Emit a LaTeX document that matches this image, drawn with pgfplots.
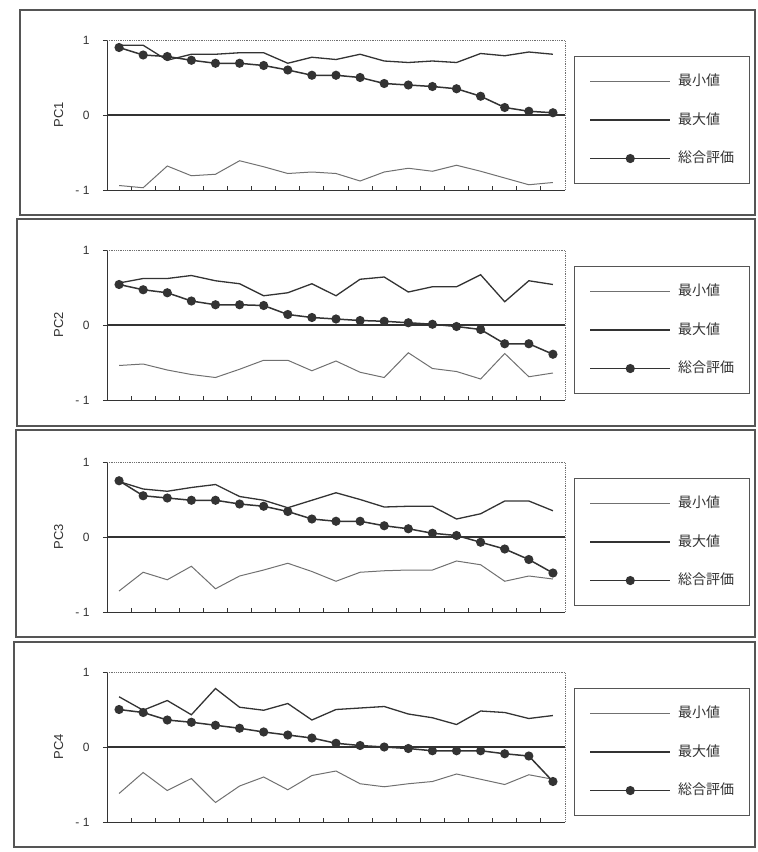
\documentclass[border=0pt]{standalone}
\usepackage{fontspec}
\setmainfont{Liberation Sans}
\newfontfamily\jp{Noto Sans CJK JP}
\usepackage{pgfplots}
\usepackage{pgfplotstable}
\pgfplotsset{compat=1.18}
\definecolor{ln}{HTML}{333333}
\definecolor{lnmin}{HTML}{707070}
\definecolor{frm}{HTML}{555555}

\pgfplotstableread{
x min max tot
0 -0.94 0.93 0.90
1 -0.97 0.93 0.80
2 -0.68 0.73 0.78
3 -0.81 0.81 0.73
4 -0.79 0.81 0.69
5 -0.61 0.83 0.69
6 -0.69 0.83 0.66
7 -0.78 0.69 0.60
8 -0.76 0.77 0.53
9 -0.78 0.74 0.53
10 -0.88 0.81 0.50
11 -0.76 0.72 0.42
12 -0.71 0.70 0.40
13 -0.75 0.72 0.38
14 -0.67 0.70 0.35
15 -0.75 0.82 0.25
16 -0.84 0.79 0.10
17 -0.93 0.84 0.05
18 -0.90 0.81 0.03
}\pcone

\pgfplotstableread{
x min max tot
0 -0.54 0.56 0.54
1 -0.52 0.62 0.47
2 -0.60 0.62 0.43
3 -0.66 0.66 0.32
4 -0.70 0.59 0.27
5 -0.59 0.55 0.27
6 -0.47 0.39 0.26
7 -0.47 0.43 0.14
8 -0.61 0.55 0.10
9 -0.48 0.39 0.08
10 -0.63 0.61 0.06
11 -0.70 0.64 0.05
12 -0.37 0.44 0.03
13 -0.58 0.51 0.01
14 -0.62 0.51 -0.02
15 -0.72 0.67 -0.06
16 -0.38 0.31 -0.25
17 -0.69 0.59 -0.25
18 -0.64 0.54 -0.39
}\pctwo

\pgfplotstableread{
x min max tot
0 -0.72 0.74 0.75
1 -0.47 0.64 0.55
2 -0.57 0.61 0.52
3 -0.39 0.66 0.49
4 -0.69 0.70 0.49
5 -0.52 0.54 0.44
6 -0.44 0.49 0.41
7 -0.35 0.39 0.34
8 -0.46 0.49 0.24
9 -0.59 0.59 0.21
10 -0.47 0.50 0.21
11 -0.45 0.40 0.15
12 -0.44 0.41 0.11
13 -0.44 0.41 0.05
14 -0.32 0.24 0.02
15 -0.37 0.31 -0.07
16 -0.59 0.48 -0.16
17 -0.52 0.48 -0.30
18 -0.56 0.35 -0.48
}\pcthree

\pgfplotstableread{
x min max tot
0 -0.62 0.67 0.50
1 -0.34 0.49 0.46
2 -0.58 0.62 0.36
3 -0.42 0.43 0.33
4 -0.74 0.78 0.29
5 -0.52 0.53 0.25
6 -0.40 0.49 0.20
7 -0.57 0.58 0.16
8 -0.38 0.36 0.12
9 -0.32 0.50 0.05
10 -0.49 0.52 0.02
11 -0.53 0.54 0.00
12 -0.49 0.44 -0.02
13 -0.46 0.39 -0.05
14 -0.36 0.30 -0.05
15 -0.43 0.48 -0.05
16 -0.50 0.46 -0.09
17 -0.37 0.38 -0.12
18 -0.43 0.42 -0.46
}\pcfour

\pgfplotsset{
 panel/.style={
  scale only axis, width=458pt, height=150pt, anchor=south west,
  xmin=-0.5, xmax=18.5, ymin=-1, ymax=1,
  axis x line*=bottom, axis y line*=left,
  axis line style={-, ln, line width=1pt},
  xtick={0.5,1.5,...,17.5}, xticklabels={}, xtick align=inside,
  ytick={-1,0,1}, yticklabels={- 1,0,1}, ytick align=outside,
  major tick length=4pt,
  tick style={ln, line width=0.9pt},
  yticklabel style={font=\fontsize{12}{14}\selectfont, text=ln, xshift=-10pt},
  ylabel style={font=\fontsize{13}{15}\selectfont, text=ln, at={(axis description cs:-0.088,0.5)}, anchor=south},
  clip=false,
  legend style={at={(1.0197,0.893)}, anchor=north west, draw=frm, line width=1pt,
    inner xsep=15pt, inner ysep=19pt, row sep=26.5pt, column sep=7pt,
    font=\jp\fontsize{14}{14}\selectfont, text=ln,
    nodes={inner sep=0pt, text height=10pt, text depth=2pt}},
  legend cell align=left,
  legend image code/.code={\draw[mark repeat=2,mark phase=2,##1] plot coordinates {(0pt,0pt) (40pt,0pt) (80pt,0pt)};},
  after end axis/.code={\draw[lnmin, densely dotted, line width=0.8pt] (rel axis cs:0,1) -- (rel axis cs:1,1) -- (rel axis cs:1,0);},
 },
 minline/.style={lnmin, line width=1pt},
 maxline/.style={ln, line width=1.3pt},
 totline/.style={ln, line width=1.5pt, mark=*, mark size=3.8pt, mark options={solid, fill=ln}},
 zeroline/.style={ln, line width=1.1pt, forget plot},
}

\begin{document}
\begin{tikzpicture}[x=1pt,y=1pt]
\path[use as bounding box] (0,0) rectangle (758,-852);
\draw[frm, line width=1.2pt] (20,-10) rectangle (755,-215);
\draw[frm, line width=1.2pt] (17,-219) rectangle (755,-426);
\draw[frm, line width=1.2pt] (16,-430) rectangle (755,-637);
\draw[frm, line width=1.2pt] (14,-642) rectangle (755,-847);

\begin{axis}[panel, at={(107pt,-190pt)}, ylabel={PC1}]
\addplot[zeroline] coordinates {(-0.5,0) (18.5,0)};
\addplot[minline] table[x=x,y=min] {\pcone};
\addlegendentry{最小値}
\addplot[maxline] table[x=x,y=max] {\pcone};
\addlegendentry{最大値}
\addplot[totline] table[x=x,y=tot] {\pcone};
\addlegendentry{総合評価}
\end{axis}

\begin{axis}[panel, at={(107pt,-400pt)}, ylabel={PC2}]
\addplot[zeroline] coordinates {(-0.5,0) (18.5,0)};
\addplot[minline] table[x=x,y=min] {\pctwo};
\addlegendentry{最小値}
\addplot[maxline] table[x=x,y=max] {\pctwo};
\addlegendentry{最大値}
\addplot[totline] table[x=x,y=tot] {\pctwo};
\addlegendentry{総合評価}
\end{axis}

\begin{axis}[panel, at={(107pt,-612pt)}, ylabel={PC3}]
\addplot[zeroline] coordinates {(-0.5,0) (18.5,0)};
\addplot[minline] table[x=x,y=min] {\pcthree};
\addlegendentry{最小値}
\addplot[maxline] table[x=x,y=max] {\pcthree};
\addlegendentry{最大値}
\addplot[totline] table[x=x,y=tot] {\pcthree};
\addlegendentry{総合評価}
\end{axis}

\begin{axis}[panel, at={(107pt,-822pt)}, ylabel={PC4}]
\addplot[zeroline] coordinates {(-0.5,0) (18.5,0)};
\addplot[minline] table[x=x,y=min] {\pcfour};
\addlegendentry{最小値}
\addplot[maxline] table[x=x,y=max] {\pcfour};
\addlegendentry{最大値}
\addplot[totline] table[x=x,y=tot] {\pcfour};
\addlegendentry{総合評価}
\end{axis}
\end{tikzpicture}
\end{document}
